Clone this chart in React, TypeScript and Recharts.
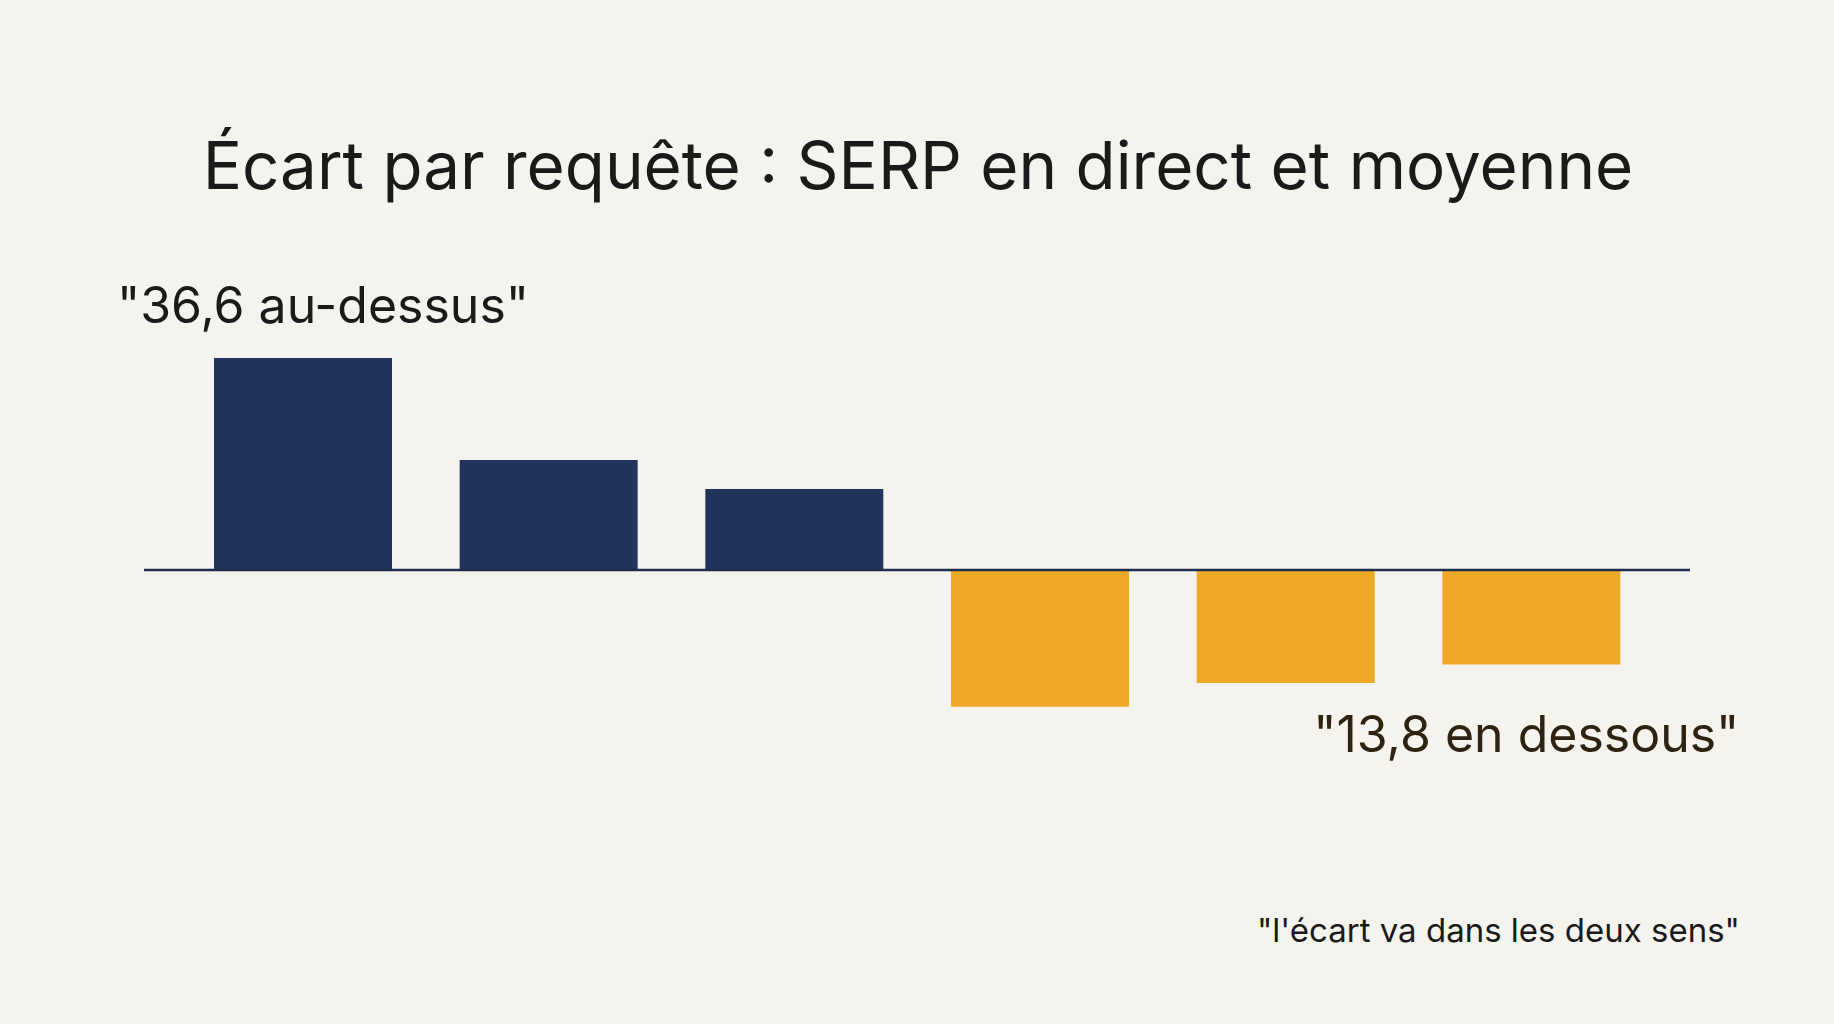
import React from "react";
import { BarChart, Bar, XAxis, YAxis, Cell, ReferenceLine, LabelList } from "recharts";

const queries = ["R1", "R2", "R3", "R4", "R5", "R6"];
const gaps = [36.6, 19.0, 14.0, -23.6, -19.5, -16.3];
const titleText = "Écart par requête : SERP en direct et moyenne";
const aboveLabel = "\"36,6 au-dessus\"";
const belowLabel = "\"13,8 en dessous\"";
const footText = "\"l'écart va dans les deux sens\"";

const data = queries.map((q, i) => ({ q, v: gaps[i] }));

const NAVY = "#22345c";
const ORANGE = "#f0a926";
const FONT = "Inter, 'Noto Sans', sans-serif";

const renderAnnot = (props: any) => {
  const { x, y, width, height, index } = props;
  const top = Math.min(y, y + height);
  const bottom = Math.max(y, y + height);
  if (index === 0) {
    return (
      <text x={x + width / 2 + 20} y={top - 35} textAnchor="middle" fontFamily={FONT} fontSize={50} fill="#1a1a1a">
        {aboveLabel}
      </text>
    );
  }
  if (index === data.length - 1) {
    return (
      <text x={x + width / 2 - 5} y={bottom + 88} textAnchor="middle" fontFamily={FONT} fontSize={50} fill="#2e2210">
        {belowLabel}
      </text>
    );
  }
  return null;
};

export default function App() {
  return (
    <div style={{ position: "fixed", left: 0, top: 0, width: 1834, height: 1024, background: "#f5f3ee", overflow: "hidden" }}>
      <svg width={1834} height={1024} style={{ position: "absolute", left: 0, top: 0 }}>
        <text x={918} y={189} textAnchor="middle" fontFamily={FONT} fontSize={65.5} fill="#1a1a1a">
          {titleText}
        </text>
        <text x={1740} y={942} textAnchor="end" fontFamily={FONT} fontSize={33} fill="#1a1a1a">
          {footText}
        </text>
      </svg>
      <div style={{ position: "absolute", left: 0, top: 0 }}>
        <BarChart
          width={1834}
          height={1024}
          data={data}
          margin={{ top: 338.3, right: 144, bottom: 222.3, left: 144 }}
        >
          <XAxis dataKey="q" hide padding={{ left: 36, right: 36 }} />
          <YAxis hide domain={[-40, 40]} width={0} />
          <Bar dataKey="v" barSize={178} isAnimationActive={false}>
            {data.map((d, i) => (
              <Cell key={i} fill={d.v >= 0 ? NAVY : ORANGE} />
            ))}
            <LabelList dataKey="v" content={renderAnnot} />
          </Bar>
          <ReferenceLine y={0} stroke="#1f2d4d" strokeWidth={2.5} ifOverflow="extendDomain" />
        </BarChart>
      </div>
    </div>
  );
}
